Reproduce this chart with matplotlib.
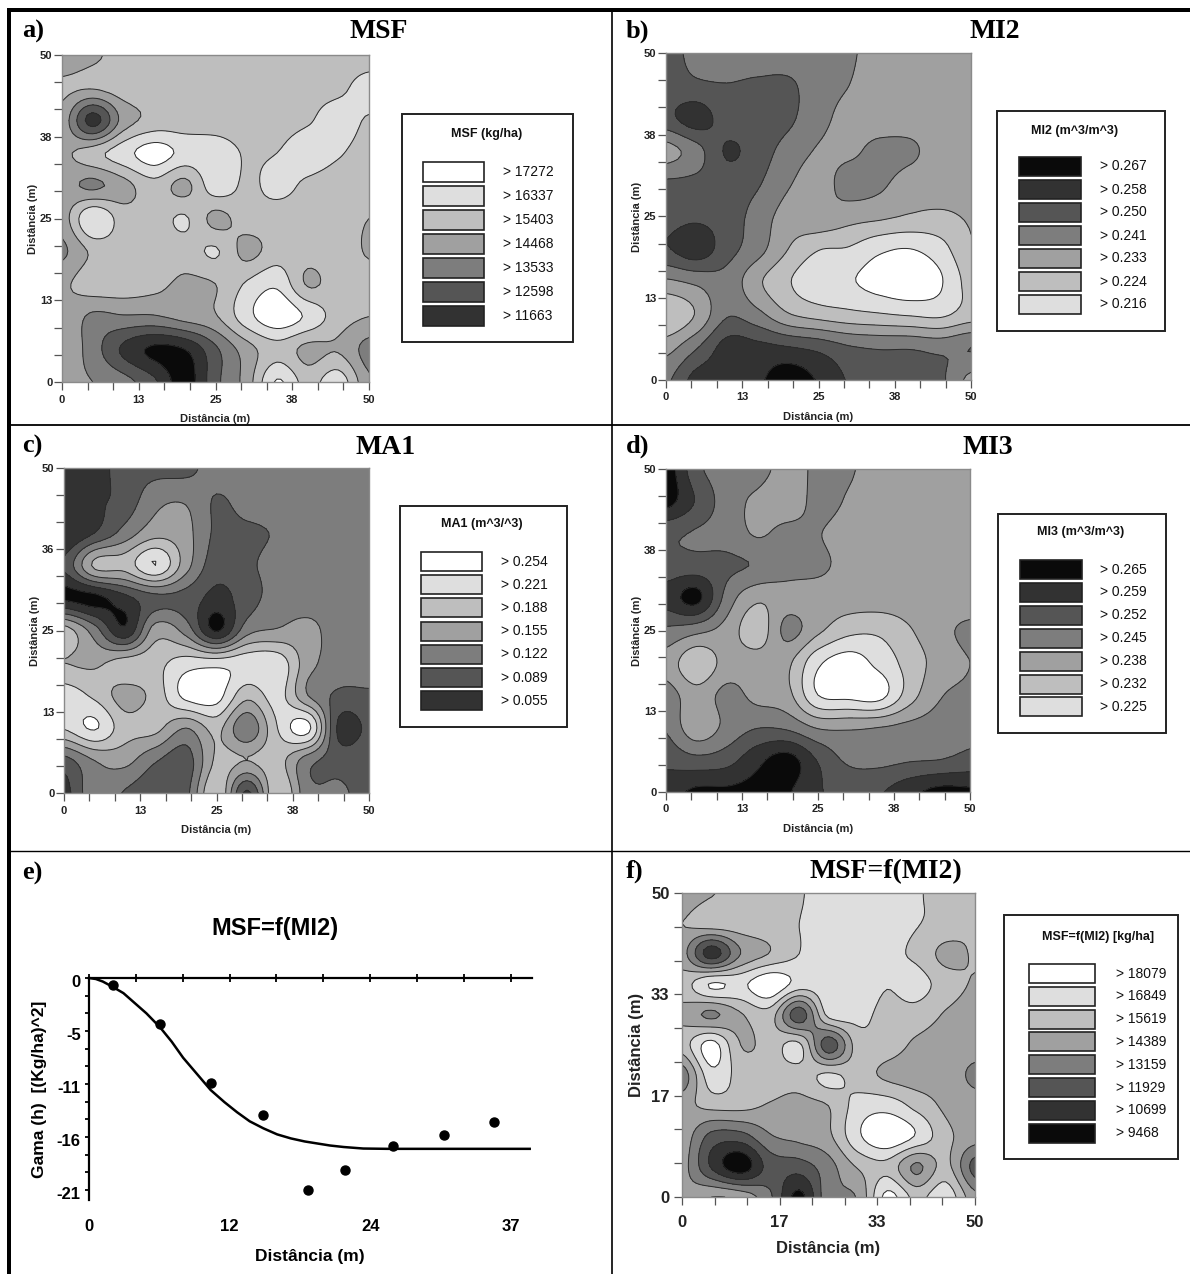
import numpy as np
import matplotlib
matplotlib.use('Agg')
import matplotlib.pyplot as plt
from matplotlib.colors import ListedColormap
from matplotlib.patches import Rectangle
from matplotlib.transforms import ScaledTranslation

W, H = 1190, 1274
SANS = ['Liberation Sans', 'DejaVu Sans']
SERIF = ['Liberation Serif', 'DejaVu Serif']

# class of the legend read from each map: 0 = white ... 7 = black
# rows go from y=50 down to y=0, columns from x=0 to x=50, every 5 m
msf_class = np.array([
    [3.6, 3.2, 2.6, 2.5, 2.5, 2.5, 2.5, 2.5, 2.5, 2.5, 2.5],
    [2.8, 2.9, 2.5, 2.5, 2.5, 2.5, 2.5, 2.4, 2.3, 2.2, 1.6],
    [3.4, 6.4, 3.6, 2.7, 2.6, 2.5, 2.5, 2.4, 2.1, 1.6, 2.1],
    [3.2, 2.4, 1.4, 0.5, 1.3, 1.4, 2.1, 2.0, 1.5, 1.9, 2.4],
    [3.6, 4.2, 3.4, 2.4, 3.3, 1.4, 2.2, 1.7, 2.2, 2.5, 2.5],
    [3.5, 1.0, 2.5, 2.5, 1.9, 3.3, 2.5, 2.5, 2.5, 2.5, 3.0],
    [4.2, 2.8, 2.5, 2.5, 2.5, 1.9, 3.3, 2.5, 2.6, 2.5, 3.1],
    [3.2, 2.4, 2.4, 2.7, 3.2, 3.0, 1.9, 1.2, 3.1, 2.5, 2.6],
    [3.2, 4.2, 4.1, 4.1, 3.6, 3.1, 1.4, 0.3, 1.2, 2.5, 3.0],
    [3.2, 4.5, 6.2, 7.2, 7.0, 5.2, 3.5, 2.4, 3.3, 3.1, 4.4],
    [3.8, 4.0, 4.6, 5.8, 7.5, 5.3, 3.6, 0.9, 2.4, 1.4, 3.8],
])
mi2_class = np.array([
    [5.5, 4.6, 4.4, 4.4, 4.4, 4.3, 4.1, 3.7, 3.5, 3.5, 3.6],
    [5.5, 5.2, 5.05, 5.2, 5.2, 4.4, 4.0, 3.6, 3.5, 3.7, 3.5],
    [5.7, 6.5, 5.5, 5.5, 5.2, 4.3, 3.7, 3.5, 3.5, 3.5, 3.5],
    [3.6, 4.6, 6.1, 5.5, 4.6, 3.9, 3.8, 4.3, 4.2, 3.5, 3.5],
    [5.2, 5.3, 5.5, 5.1, 4.1, 3.6, 4.4, 4.2, 3.5, 3.5, 3.5],
    [5.6, 5.8, 5.5, 4.6, 3.6, 3.8, 3.4, 3.2, 2.9, 2.8, 3.1],
    [5.9, 6.6, 5.4, 4.4, 3.0, 2.05, 1.9, 1.2, 0.98, 1.6, 2.9],
    [3.8, 4.2, 4.6, 3.2, 2.1, 1.3, 1.1, 0.6, 0.3, 0.9, 2.4],
    [2.0, 3.1, 4.9, 4.3, 3.1, 2.6, 2.3, 2.1, 1.9, 1.8, 2.5],
    [3.6, 4.9, 6.4, 6.3, 6.05, 5.7, 5.1, 4.9, 4.9, 4.7, 5.0],
    [4.8, 6.4, 6.4, 6.8, 7.6, 6.9, 5.9, 5.4, 5.4, 5.2, 3.7],
])
ma1_class = np.array([
    [6.8, 6.6, 5.4, 5.3, 5.3, 4.5, 4.5, 4.5, 4.5, 4.5, 4.5],
    [6.4, 6.2, 5.6, 4.3, 4.1, 5.1, 4.6, 4.5, 4.5, 4.5, 4.5],
    [7.0, 6.0, 4.6, 3.4, 3.7, 5.2, 5.2, 4.9, 4.5, 4.5, 4.5],
    [5.8, 2.8, 2.6, 1.0, 3.6, 5.6, 5.2, 4.6, 4.5, 4.5, 4.5],
    [7.2, 7.3, 6.3, 5.3, 5.4, 6.3, 5.5, 4.5, 4.5, 4.5, 4.5],
    [2.5, 4.5, 6.8, 3.5, 4.4, 7.1, 4.4, 3.9, 3.7, 4.5, 4.5],
    [3.0, 3.2, 2.5, 2.3, 1.5, 1.4, 1.3, 1.3, 3.6, 4.4, 4.3],
    [1.5, 2.2, 3.4, 2.6, 0.7, 0.6, 2.7, 1.6, 4.0, 5.2, 5.2],
    [1.9, 0.9, 2.6, 2.7, 4.0, 2.7, 4.8, 2.0, 0.7, 6.2, 5.8],
    [5.4, 4.0, 3.7, 4.9, 5.5, 2.8, 3.0, 2.6, 4.6, 5.4, 5.3],
    [6.4, 4.3, 5.1, 5.8, 5.3, 2.0, 6.2, 2.0, 4.7, 4.8, 5.4],
])
mi3_class = np.array([
    [7.6, 5.3, 4.5, 4.4, 3.6, 4.2, 4.1, 3.6, 3.5, 3.5, 3.5],
    [7.4, 5.9, 4.5, 3.8, 3.4, 4.3, 3.9, 3.5, 3.5, 3.5, 3.5],
    [5.2, 4.9, 4.6, 3.9, 4.3, 4.05, 3.6, 3.5, 3.1, 3.5, 3.5],
    [5.4, 5.4, 5.2, 4.9, 4.4, 4.2, 3.7, 3.5, 3.5, 3.5, 3.5],
    [6.4, 7.3, 4.6, 3.2, 3.6, 3.5, 3.5, 3.5, 3.5, 3.6, 3.5],
    [4.8, 4.3, 3.6, 2.4, 4.3, 3.2, 2.3, 2.2, 2.9, 3.7, 4.2],
    [3.6, 2.2, 3.4, 3.5, 3.2, 1.2, 0.5, 1.3, 2.4, 3.4, 4.0],
    [4.5, 3.4, 4.3, 3.7, 3.3, 1.0, 0.7, 0.6, 2.5, 3.9, 4.2],
    [4.9, 3.3, 4.3, 4.95, 4.8, 3.9, 3.85, 4.0, 4.3, 4.5, 4.7],
    [5.7, 5.3, 5.6, 6.7, 7.4, 5.9, 4.8, 4.7, 4.9, 5.0, 5.3],
    [6.6, 7.2, 7.2, 7.3, 7.1, 6.1, 5.8, 5.9, 6.7, 7.3, 7.2],
])
msf_f_class = np.array([
    [3.8, 3.1, 2.5, 2.4, 2.1, 1.5, 1.5, 1.5, 1.9, 2.3, 2.4],
    [3.0, 2.4, 2.4, 2.3, 2.0, 1.5, 1.5, 1.6, 1.95, 2.3, 2.9],
    [3.6, 6.5, 4.0, 2.95, 2.0, 1.5, 1.5, 1.8, 2.2, 3.3, 2.9],
    [2.5, 0.9, 1.2, 0.2, 1.4, 1.4, 1.4, 1.95, 1.6, 2.5, 3.1],
    [3.3, 4.2, 3.1, 2.5, 5.6, 1.7, 1.7, 2.3, 2.4, 3.1, 3.5],
    [2.5, 0.6, 3.0, 2.6, 1.8, 5.6, 2.5, 2.5, 3.2, 3.5, 3.6],
    [4.6, 1.4, 2.4, 2.5, 2.5, 1.8, 2.5, 3.2, 3.5, 3.5, 4.2],
    [3.3, 2.7, 2.7, 3.1, 3.3, 3.0, 1.6, 1.4, 2.3, 3.2, 3.6],
    [3.4, 5.3, 5.4, 4.1, 3.7, 3.2, 1.2, 0.2, 1.1, 2.7, 3.5],
    [3.6, 6.1, 7.6, 5.6, 5.5, 4.4, 2.9, 2.3, 4.2, 2.7, 5.4],
    [3.8, 3.0, 3.3, 4.8, 7.3, 4.3, 3.9, 0.7, 2.3, 1.3, 3.7],
])

grid_m = [0, 5, 10, 15, 20, 25, 30, 35, 40, 45, 50]
class_greys = ['#ffffff', '#dedede', '#bebebe', '#a0a0a0', '#7d7d7d', '#555555', '#323232', '#0a0a0a']

msf_legend = ['> 17272', '> 16337', '> 15403', '> 14468', '> 13533', '> 12598', '> 11663']
mi2_legend = ['> 0.267', '> 0.258', '> 0.250', '> 0.241', '> 0.233', '> 0.224', '> 0.216']
ma1_legend = ['> 0.254', '> 0.221', '> 0.188', '> 0.155', '> 0.122', '> 0.089', '> 0.055']
mi3_legend = ['> 0.265', '> 0.259', '> 0.252', '> 0.245', '> 0.238', '> 0.232', '> 0.225']
msf_f_legend = ['> 18079', '> 16849', '> 15619', '> 14389', '> 13159', '> 11929', '> 10699', '> 9468']

# semivariogram of panel e
lag_points = [2.1, 6.2, 10.6, 15.2, 19.1, 22.3, 26.5, 30.9, 35.3]
gama_points = [-0.7, -4.6, -10.4, -13.6, -21.0, -19.0, -16.6, -15.6, -14.3]
lag_model = [0, 0.6, 1.2, 2.1, 3.0, 3.9, 5.0, 6.2, 7.2, 8.2, 9.4, 10.6, 11.8, 12.9, 14.0, 15.2,
             16.4, 17.6, 18.8, 19.9, 21.0, 22.2, 23.9, 26.0, 30.0, 34.0, 38.4]
gama_model = [0, -0.1, -0.35, -0.9, -1.5, -2.4, -3.5, -4.9, -6.3, -7.9, -9.5, -11.1, -12.3, -13.3,
              -14.2, -14.9, -15.5, -15.9, -16.2, -16.4, -16.6, -16.75, -16.9, -16.93, -16.93, -16.93, -16.93]


def smooth_rows(a, n=8):
    k = a.shape[0]
    pos = np.linspace(0, k - 1, (k - 1) * n + 1)
    i = np.clip(pos.astype(int), 0, k - 2)
    t = (pos - i).reshape(-1, 1)
    p0, p1 = a[np.maximum(i - 1, 0)], a[i]
    p2, p3 = a[i + 1], a[np.minimum(i + 2, k - 1)]
    return 0.5 * (2 * p1 + (p2 - p0) * t + (2 * p0 - 5 * p1 + 4 * p2 - p3) * t ** 2
                  + (3 * p1 - p0 - 3 * p2 + p3) * t ** 3)


def pix_axes(left, top, right, bottom):
    return fig.add_axes([left / W, 1 - bottom / H, (right - left) / W, (bottom - top) / H])


def draw_map(box, classes, xlabels, ylabels, font, xpad, ypad, xlabel_pad, ylabel_pad):
    ax = pix_axes(*box)
    z = smooth_rows(smooth_rows(np.flipud(classes)).T).T
    z = np.clip(z, 0.001, 7.999)
    xs = np.linspace(grid_m[0], grid_m[-1], z.shape[1])
    ys = np.linspace(grid_m[0], grid_m[-1], z.shape[0])
    ax.contourf(xs, ys, z, levels=np.arange(9), cmap=ListedColormap(class_greys))
    ax.contour(xs, ys, z, levels=np.arange(1, 8), colors='#2a2a2a', linewidths=0.7)
    n = len(xlabels) - 1
    major = np.linspace(0, 50, n + 1)
    minor = np.linspace(0, 50, 3 * n + 1)
    ax.set_xticks(minor, minor=True)
    ax.set_yticks(minor, minor=True)
    ax.set_xticks(major, xlabels)
    ax.set_yticks(major, ylabels)
    ax.tick_params(which='both', length=6, width=0.9, color='#555555')
    ax.tick_params(axis='x', pad=xpad)
    ax.tick_params(axis='y', pad=ypad)
    for lab in ax.get_xticklabels() + ax.get_yticklabels():
        lab.set_family(SANS)
        lab.set_weight('bold')
        lab.set_size(font)
        lab.set_color('#222222')
    for side in ax.spines.values():
        side.set_color('#8a8a8a')
        side.set_linewidth(1.0)
    ax.set_xlabel('Distância (m)', family=SANS, weight='bold', size=font, color='#222222', labelpad=xlabel_pad)
    ax.set_ylabel('Distância (m)', family=SANS, weight='bold', size=font, color='#222222', labelpad=ylabel_pad)
    return ax


def draw_legend(box, title, title_xy, labels, classes, swatch_x, swatch_top, swatch_h, pitch, text_x):
    l, t, r, b = box
    page.add_patch(Rectangle((l, t), r - l, b - t, fc='white', ec='#222222', lw=1.4))
    page.text(title_xy[0], title_xy[1], title, family=SANS, weight='bold', size=9, ha='center', va='center', color='#111111')
    for i, (lab, c) in enumerate(zip(labels, classes)):
        y = swatch_top + i * pitch
        page.add_patch(Rectangle((swatch_x[0], y), swatch_x[1] - swatch_x[0], swatch_h,
                                 fc=class_greys[c], ec='#222222', lw=1.2))
        page.text(text_x, y + swatch_h / 2, lab, family=SANS, size=10, ha='left', va='center', color='#111111')


fig = plt.figure(figsize=(W / 100, H / 100), dpi=100)
page = fig.add_axes([0, 0, 1, 1])
page.set_xlim(0, W)
page.set_ylim(H, 0)
page.axis('off')

# table lines
page.add_patch(Rectangle((7, 8), W - 7, 4, fc='black', ec='none'))
page.add_patch(Rectangle((7, 8), 4, H - 8, fc='black', ec='none'))
page.plot([611.5, 611.5], [12, H], color='black', lw=1.2)
page.plot([11, W], [425, 425], color='black', lw=1.3)
page.plot([11, W], [850.5, 850.5], color='black', lw=1.0)

for txt, x, y in [('a)', 22, 31), ('b)', 626, 31), ('c)', 22, 446), ('d)', 626, 446), ('e)', 22, 873), ('f)', 626, 871)]:
    page.text(x, y, txt, family=SERIF, weight='bold', size=19, ha='left', va='center')
for txt, x, y in [('MSF', 379, 32), ('MI2', 995, 32), ('MA1', 386, 448), ('MI3', 988, 448), ('MSF=f(MI2)', 886, 872)]:
    page.text(x, y, txt, family=SERIF, weight='bold', size=20, ha='center', va='center')

m_labels = ['0', '13', '25', '38', '50']
draw_map((62, 55, 369, 382), msf_class, m_labels, m_labels, 8, 3, 1, 7, 1)
draw_map((666, 53, 971, 380), mi2_class, m_labels, m_labels, 8, 3, 1, 7, 1)
draw_map((64, 468, 369, 793), ma1_class, m_labels, ['0', '13', '25', '36', '50'], 8, 3, 1, 7, 1)
draw_map((666, 469, 970, 792), mi3_class, m_labels, m_labels, 8, 3, 1, 7, 1)
f_labels = ['0', '17', '33', '50']
draw_map((682, 893, 975, 1197), msf_f_class, f_labels, f_labels, 12, 7, 3, 8, 5)

draw_legend((402, 114, 573, 342), 'MSF (kg/ha)', (487, 134), msf_legend, range(7), (423, 484), 162, 20, 24, 503)
draw_legend((997, 111, 1165, 331), 'MI2 (m^3/m^3)', (1075, 131), mi2_legend, range(7, 0, -1), (1019, 1081), 157, 19, 23, 1100)
draw_legend((400, 506, 567, 727), 'MA1 (m^3/^3)', (482, 524), ma1_legend, range(7), (421, 482), 552, 19, 23.2, 501)
draw_legend((998, 514, 1166, 733), 'MI3 (m^3/m^3)', (1081, 532), mi3_legend, range(7, 0, -1), (1020, 1082), 560, 19, 22.9, 1100)
draw_legend((1004, 915, 1178, 1159), 'MSF=f(MI2) [kg/ha]', (1098, 937), msf_f_legend, range(8), (1029, 1095), 964, 19, 22.8, 1116)

# panel e
ax = pix_axes(89, 978, 532, 1200)
ax.set_xlim(0, 38.6)
ax.set_ylim(-22, 0)
ax.plot(lag_model, gama_model, color='black', lw=1.8, clip_on=False)
ax.plot(lag_points, gama_points, 'o', color='black', ms=6.5, clip_on=False)
for name in ['right', 'bottom']:
    ax.spines[name].set_visible(False)
for name in ['top', 'left']:
    ax.spines[name].set_linewidth(1.6)
ax.xaxis.tick_top()
ax.set_xticks(np.arange(0, 37, 4.083))
ax.set_xticklabels([])
ax.set_yticks(np.linspace(0, -21, 5), ['0', '-5', '-11', '-16', '-21'])
ax.set_yticks(np.linspace(0, -21, 13), minor=True)
ax.tick_params(axis='x', direction='inout', length=6, width=1.3)
ax.tick_params(axis='y', which='both', direction='out', length=3, width=1.3, pad=3)
shift = ScaledTranslation(0, -3 / 100, fig.dpi_scale_trans)
for lab in ax.get_yticklabels():
    lab.set_family(SANS)
    lab.set_weight('bold')
    lab.set_size(12)
    lab.set_transform(lab.get_transform() + shift)
for v, lab in zip([0, 12.25, 24.5, 36.75], ['0', '12', '24', '37']):
    ax.text(v, -24.6, lab, family=SANS, weight='bold', size=12, ha='center', va='center')
page.text(275, 928, 'MSF=f(MI2)', family=SANS, weight='bold', size=17, ha='center', va='center')
page.text(310, 1257, 'Distância (m)', family=SANS, weight='bold', size=12.5, ha='center', va='center')
page.text(40, 1089, 'Gama (h)  [(Kg/ha)^2]', family=SANS, weight='bold', size=12.5, rotation=90, ha='center', va='center')

fig.savefig('out.png', dpi=100)
